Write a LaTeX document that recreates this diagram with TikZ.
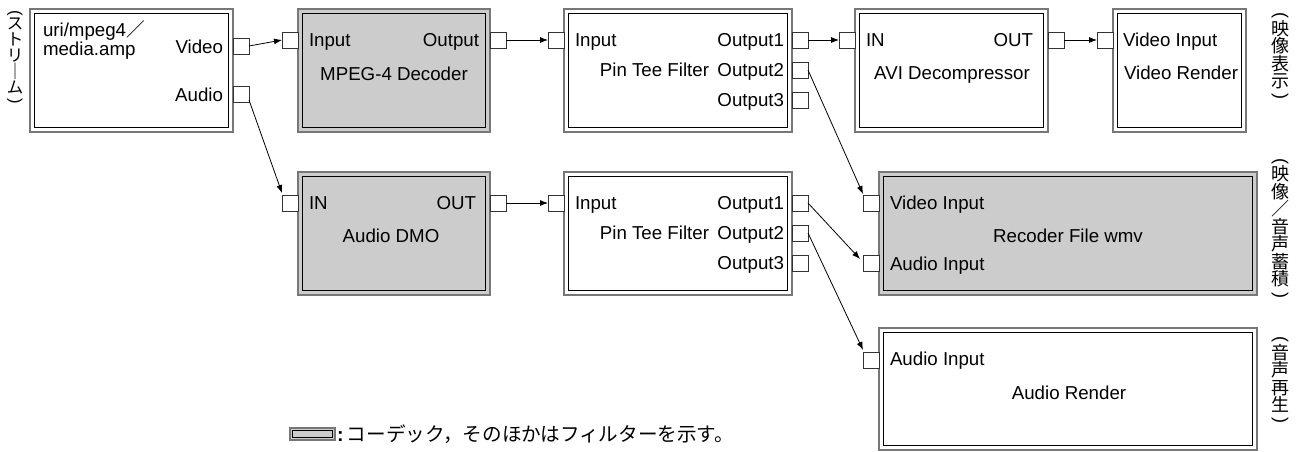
\documentclass[tikz,border=0pt]{standalone}
\usepackage{graphicx}
\usepackage{fontspec}
\setmainfont{Liberation Sans}
\newfontfamily\jpfont{Noto Sans CJK JP}
\usetikzlibrary{arrows.meta,calc}
\definecolor{boxgray}{HTML}{777777}
\definecolor{codec}{HTML}{CCCCCC}
\tikzset{inset/.store in=\boxinset, inset=4.5}
% parentheses for vertically set notes
\newcommand\vopen{\rotatebox{-90}{\rmfamily(}}
\newcommand\vclose{\raisebox{0.62em}{\rotatebox{-90}{\rmfamily)}}}
\begin{document}
\begin{tikzpicture}[x=1pt,y=-1pt,
  filt/.style={rectangle, draw=boxgray, line width=1.8pt, fill=white,
    inner sep=0pt, outer sep=0pt, anchor=north west,
    path picture={\draw[black, line width=0.9pt]
      ([shift={(\boxinset,\boxinset)}]path picture bounding box.north west) rectangle
      ([shift={(-\boxinset,-\boxinset)}]path picture bounding box.south east);}},
  port/.style={rectangle, draw=black!80, line width=0.9pt, fill=white,
    minimum size=16pt, inner sep=0pt, outer sep=0pt},
  lbl/.style={font=\fontsize{18.7}{22}\selectfont, inner sep=0pt, outer sep=0pt},
  lw/.style={lbl, anchor=base west},
  le/.style={lbl, anchor=base east},
  lc/.style={lbl, anchor=base},
  vlab/.style={font=\jpfont\fontsize{18}{17.5}\selectfont, align=center, inner sep=0pt},
  conn/.style={-{Latex[length=8pt,width=6pt]}, line width=0.8pt, black}]
\useasboundingbox (0,0) rectangle (1301,451);

% filter boxes
\node[filt, minimum width=203pt, minimum height=123pt] (src) at (30,9) {};
\node[filt, fill=codec, minimum width=192pt, minimum height=123pt] (mpeg) at (298,9) {};
\node[filt, minimum width=228pt, minimum height=123pt] (teeA) at (564,9) {};
\node[filt, minimum width=193pt, minimum height=123pt] (avi) at (855,9) {};
\node[filt, minimum width=133pt, minimum height=123pt] (vren) at (1113,9) {};
\node[filt, fill=codec, minimum width=192pt, minimum height=123pt] (dmo) at (298,172) {};
\node[filt, minimum width=228pt, minimum height=123pt] (teeB) at (564,172) {};
\node[filt, fill=codec, minimum width=378pt, minimum height=123pt] (rec) at (879,172) {};
\node[filt, minimum width=378pt, minimum height=122pt] (aren) at (879,328) {};

% pins
\node[port] (srcV) at (241,46) {};
\node[port] (srcA) at (241,94) {};
\node[port] (mpegI) at (290,40) {};
\node[port] (mpegO) at (498,40) {};
\node[port] (teeAI) at (556,40) {};
\node[port] (teeA1) at (800,40) {};
\node[port] (teeA2) at (800,70) {};
\node[port] (teeA3) at (800,100) {};
\node[port] (aviI) at (847,40) {};
\node[port] (aviO) at (1056,40) {};
\node[port] (vrenI) at (1105,40) {};
\node[port] (dmoI) at (290,203) {};
\node[port] (dmoO) at (498,203) {};
\node[port] (teeBI) at (556,203) {};
\node[port] (teeB1) at (800,203) {};
\node[port] (teeB2) at (800,233) {};
\node[port] (teeB3) at (800,263) {};
\node[port] (recV) at (871,203) {};
\node[port] (recA) at (871,263) {};
\node[port] (arenI) at (871,360) {};

% labels: source
\node[lw] (tSrc1) at (43,36) {uri/mpeg4{\jpfont ／}};
\node[lw] (tSrc2) at (43,55) {media.amp};
\node[le] (tSrcV) at (223,53) {Video};
\node[le] (tSrcA) at (223,101) {Audio};
% MPEG-4 decoder
\node[lw] (tMpegI) at (309,46) {Input};
\node[le] (tMpegO) at (479,46) {Output};
\node[lc] (tMpeg) at (394,80) {MPEG-4 Decoder};
% first pin tee
\node[lw] (tTeeAI) at (575,46) {Input};
\node[le] (tTeeA1) at (784,46) {Output1};
\node[le] (tTeeA) at (709,76) {Pin Tee Filter};
\node[le] (tTeeA2) at (784,76) {Output2};
\node[le] (tTeeA3) at (784,106) {Output3};
% AVI decompressor
\node[lw] (tAviI) at (866,46) {IN};
\node[le] (tAviO) at (1033,46) {OUT};
\node[lc] (tAvi) at (952,79) {AVI Decompressor};
% video render
\node[lw] (tVrenI) at (1123,46) {Video Input};
\node[lc] (tVren) at (1181,79) {Video Render};
% audio DMO
\node[lw] (tDmoI) at (309,209) {IN};
\node[le] (tDmoO) at (476,209) {OUT};
\node[lc] (tDmo) at (391,242) {Audio DMO};
% second pin tee
\node[lw] (tTeeBI) at (575,209) {Input};
\node[le] (tTeeB1) at (784,209) {Output1};
\node[le] (tTeeB) at (709,239) {Pin Tee Filter};
\node[le] (tTeeB2) at (784,239) {Output2};
\node[le] (tTeeB3) at (784,269) {Output3};
% recorder
\node[lw] (tRecV) at (890,209) {Video Input};
\node[lc] (tRec) at (1068,242) {Recoder File wmv};
\node[lw] (tRecA) at (890,270) {Audio Input};
% audio render
\node[lw] (tArenI) at (890,365) {Audio Input};
\node[lc] (tAren) at (1069,399) {Audio Render};

% side notes (vertical)
\node[vlab, font=\jpfont\fontsize{16.5}{16}\selectfont] (nStream) at (15,60)
  {\vopen\\ス\\ト\\リ\\｜\\ム\\\vclose};
\node[vlab] (nVideo) at (1280,59) {\vopen\\映\\像\\表\\示\\\vclose};
\node[vlab] (nStore) at (1280,231) {\vopen\\映\\像\\／\\音\\声\\蓄\\積\\\vclose};
\node[vlab] (nPlay) at (1280,383) {\vopen\\音\\声\\再\\生\\\vclose};

% legend
\node[filt, fill=codec, inset=2.5, line width=1.4pt, minimum width=45pt, minimum height=12pt] (legBox) at (290,428) {};
\node[anchor=west, inner sep=0pt, font=\jpfont\fontsize{19.6}{21}\selectfont] (legTxt) at (337,434)
  {{\rmfamily\bfseries :}\,コーデック，そのほかはフィルターを示す。};

% connections
\draw[conn] (srcV.east) -- (mpegI.west);
\draw[conn] ([yshift=2pt]srcA.south east) -- ([yshift=2pt]dmoI.north west);
\draw[conn] (mpegO.east) -- (teeAI.west);
\draw[conn] (teeA1.east) -- (aviI.west);
\draw[conn] (aviO.east) -- (vrenI.west);
\draw[conn] (teeA2.east) -- ([yshift=1pt]recV.north west);
\draw[conn] (dmoO.east) -- (teeBI.west);
\draw[conn] (teeB1.east) -- ([xshift=-3pt,yshift=-4pt]recA.north west);
\draw[conn] (teeB2.east) -- ([yshift=2pt]arenI.north west);
\end{tikzpicture}
\end{document}
